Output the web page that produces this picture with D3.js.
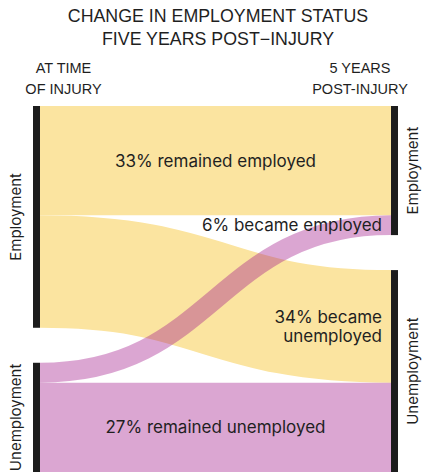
<!DOCTYPE html>
<html lang="en">
<head>
    <meta charset="UTF-8">
    <title>Change in employment status</title>
    <script src="https://cdn.jsdelivr.net/npm/d3@7"></script>
    <style>
        body { margin: 0; background: white; }
        text { font-family: Inter, "Noto Sans", sans-serif; fill: #1f1f1f; }
        text.head { font-family: "Liberation Sans", Arial, sans-serif; }
    </style>
</head>
<body>
<svg id="main" width="423" height="472"></svg>
<script>
    // chart data
    let titleLines = ["CHANGE IN EMPLOYMENT STATUS", "FIVE YEARS POST\u2212INJURY"];
    let leftHeader = ["AT TIME", "OF INJURY"];
    let rightHeader = ["5 YEARS", "POST-INJURY"];
    let statusNames = ["Employment", "Unemployment"];
    // flows: from status (at injury) -> to status (5 years on)
    let flowFrom = [0, 0, 1, 1];
    let flowTo = [0, 1, 0, 1];
    let flowValues = [33, 34, 6, 27];
    let flowLabels = [["33% remained employed"], ["34% became", "unemployed"], ["6% became employed"], ["27% remained unemployed"]];

    let svg = d3.select('svg#main');
    let colors = ["#fbe4a0", "rgb(160,22,138)"];
    let opac = [1, 0.38];

    let yTop = 106, pad = 35, nodeW = 7;
    let xLeft = 33, xRight = 391;
    let h = d3.scaleLinear().domain([0, 100]).range([0, 331]);

    // node totals per column
    let leftTot = statusNames.map(function (s, i) { return d3.sum(flowValues.filter(function (v, j) { return flowFrom[j] === i; })); });
    let rightTot = statusNames.map(function (s, i) { return d3.sum(flowValues.filter(function (v, j) { return flowTo[j] === i; })); });

    function stack(tot) {
        let y = yTop;
        return tot.map(function (v) {
            let n = {y0: y, y1: y + h(v)};
            y = n.y1 + pad;
            return n;
        });
    }
    let leftNodes = stack(leftTot);
    let rightNodes = stack(rightTot);

    // link positions (sorted by other end)
    let srcOff = leftNodes.map(function (n) { return n.y0; });
    let tgtOff = rightNodes.map(function (n) { return n.y0; });
    let links = flowValues.map(function (v, i) { return {i: i, v: v}; });
    links.slice().sort(function (a, b) { return flowTo[a.i] - flowTo[b.i]; }).forEach(function (l) {
        let s = flowFrom[l.i];
        l.sy = srcOff[s] + h(l.v) / 2; srcOff[s] += h(l.v);
    });
    links.slice().sort(function (a, b) { return flowFrom[a.i] - flowFrom[b.i]; }).forEach(function (l) {
        let t = flowTo[l.i];
        l.ty = tgtOff[t] + h(l.v) / 2; tgtOff[t] += h(l.v);
    });

    let linkGen = d3.linkHorizontal()
        .source(function (d) { return [xLeft + nodeW, d.sy]; })
        .target(function (d) { return [xRight, d.ty]; });

    // yellow first, purple over it
    let drawOrder = links.slice().sort(function (a, b) { return flowFrom[a.i] - flowFrom[b.i]; });
    svg.append('g').selectAll('path').data(drawOrder).join('path')
        .attr('d', linkGen)
        .style('fill', 'none')
        .style('stroke', function (d) { return colors[flowFrom[d.i]]; })
        .style('stroke-opacity', function (d) { return opac[flowFrom[d.i]]; })
        .style('stroke-width', function (d) { return h(d.v); });

    // node bars
    let bars = svg.append('g');
    leftNodes.forEach(function (n) {
        bars.append('rect').attr('x', xLeft).attr('y', n.y0).attr('width', nodeW).attr('height', n.y1 - n.y0).style('fill', '#1c1c1c');
    });
    rightNodes.forEach(function (n) {
        bars.append('rect').attr('x', xRight).attr('y', n.y0).attr('width', nodeW).attr('height', n.y1 - n.y0).style('fill', '#1c1c1c');
    });

    // node labels, rotated
    leftNodes.forEach(function (n, i) {
        svg.append('text').attr('transform', 'translate(21,' + ((n.y0 + n.y1) / 2) + ') rotate(-90)')
            .attr('text-anchor', 'middle').style('font-size', '15px').text(statusNames[i]);
    });
    rightNodes.forEach(function (n, i) {
        svg.append('text').attr('transform', 'translate(418,' + ((n.y0 + n.y1) / 2) + ') rotate(-90)')
            .attr('text-anchor', 'middle').style('font-size', '15px').text(statusNames[i]);
    });

    // flow labels
    links.forEach(function (l) {
        let lines = flowLabels[l.i];
        let straight = flowFrom[l.i] === flowTo[l.i];
        let x = straight ? (xLeft + nodeW + xRight) / 2 : xRight - 9;
        let y = straight ? (l.sy + l.ty) / 2 : l.ty;
        let t = svg.append('text').attr('x', x).attr('y', y)
            .attr('text-anchor', straight ? 'middle' : 'end')
            .style('font-size', '17px');
        lines.forEach(function (s, k) {
            t.append('tspan').attr('x', x)
                .attr('dy', k === 0 ? (0.35 - (lines.length - 1) * 0.55) + 'em' : '1.1em')
                .text(s);
        });
    });

    // title and column headers
    titleLines.forEach(function (s, k) {
        svg.append('text').attr('class', 'head').attr('x', 218).attr('y', 22 + k * 22.5)
            .attr('text-anchor', 'middle').style('font-size', '17.8px').text(s);
    });
    leftHeader.forEach(function (s, k) {
        svg.append('text').attr('class', 'head').attr('x', 63.5).attr('y', 73 + k * 20.5)
            .attr('text-anchor', 'middle').style('font-size', '14.5px').text(s);
    });
    rightHeader.forEach(function (s, k) {
        svg.append('text').attr('class', 'head').attr('x', 360).attr('y', 73 + k * 20.5)
            .attr('text-anchor', 'middle').style('font-size', '14.5px').text(s);
    });
</script>
</body>
</html>
